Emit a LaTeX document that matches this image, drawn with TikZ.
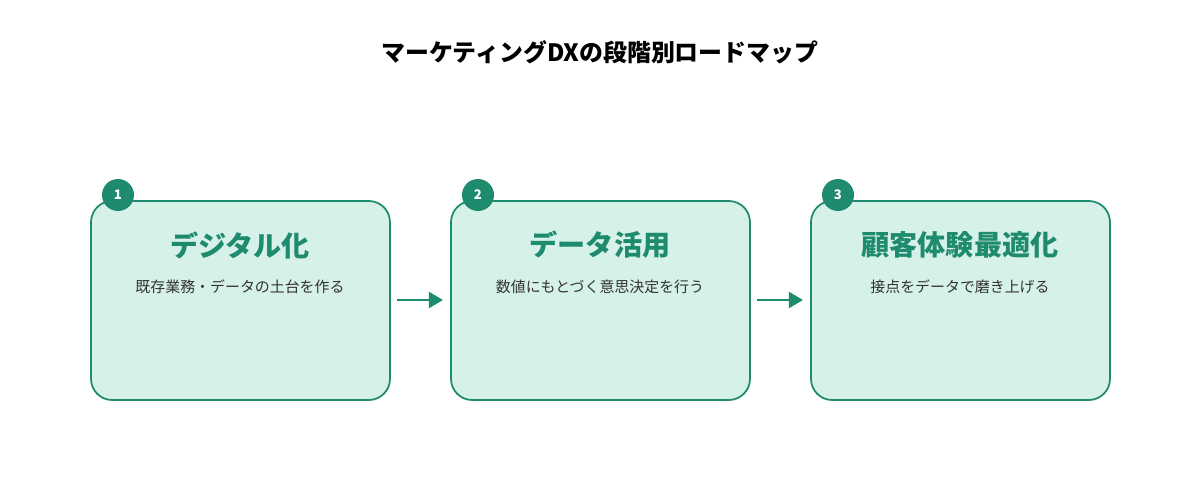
\documentclass[tikz,border=0pt]{standalone}
\usepackage{fontspec}
\setmainfont{Noto Sans CJK JP}
\usetikzlibrary{arrows.meta}
\definecolor{dxgreen}{HTML}{1E8A6E}
\definecolor{dxfill}{HTML}{D6F1E8}
\definecolor{dxtext}{HTML}{333333}
\tikzset{
  stage/.style={draw=dxgreen, fill=dxfill, line width=1pt, rounded corners=12pt, minimum width=5.98cm, minimum height=3.98cm, inner sep=0pt},
  badge/.style={circle, fill=dxgreen, minimum size=0.64cm, inner sep=0pt, text=white, font=\bfseries\fontsize{7.5}{9}\selectfont},
  heading/.style={text=dxgreen, font=\bfseries\fontsize{16}{19}\selectfont},
  caption/.style={text=dxtext, font=\fontsize{8.5}{10}\selectfont},
  flow/.style={draw=dxgreen, line width=1.6pt, -{Triangle[length=8pt,width=9pt]}}
}
\begin{document}
\begin{tikzpicture}[x=0.02cm,y=-0.02cm]
        \useasboundingbox (0,0) rectangle (1200,500);
        \node [font=\bfseries\fontsize{13.6}{16}\selectfont] (title) at (600,52) {マーケティングDXの段階別ロードマップ};
        % stages
        \node [stage] (s1) at (240.5,300.5) {};
        \node [stage] (s2) at (600.5,300.5) {};
        \node [stage] (s3) at (960.5,300.5) {};
        \node [badge] (b1) at (118,195) {1};
        \node [badge] (b2) at (478,195) {2};
        \node [badge] (b3) at (838,195) {3};
        \node [heading] (h1) at (240,245) {デジタル化};
        \node [heading] (h2) at (600,245) {データ活用};
        \node [heading] (h3) at (960,245) {顧客体験最適化};
        \node [caption] (c1) at (240,287) {既存業務・データの土台を作る};
        \node [caption] (c2) at (600,287) {数値にもとづく意思決定を行う};
        \node [caption] (c3) at (960,287) {接点をデータで磨き上げる};
        % arrows
        \coordinate (a1) at (397,300);
        \coordinate (e1) at (443,300);
        \coordinate (a2) at (757,300);
        \coordinate (e2) at (803,300);
        \draw [flow] (a1) -- (e1);
        \draw [flow] (a2) -- (e2);
\end{tikzpicture}
\end{document}
